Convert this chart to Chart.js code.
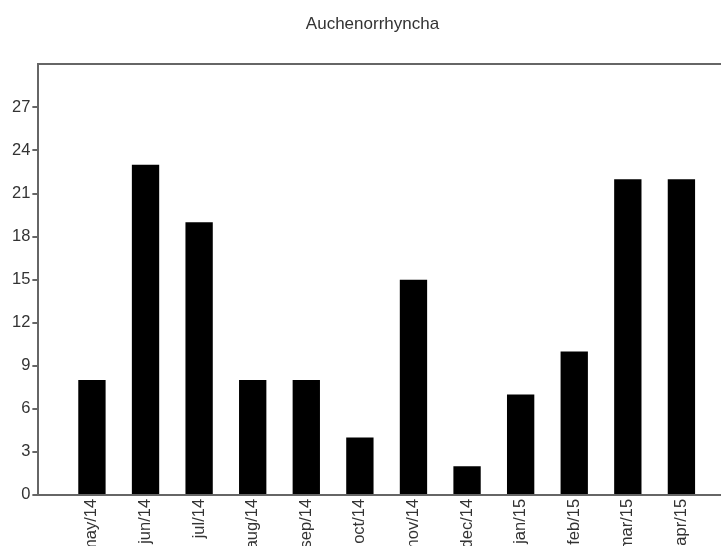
<!DOCTYPE html>
<html>
<head>
<meta charset="utf-8">
<script src="https://cdn.jsdelivr.net/npm/chart.js@4/dist/chart.umd.min.js"></script>
<style>
  html, body { margin: 0; padding: 0; background: #fff; overflow: hidden; }
  #wrap { position: relative; width: 775px; height: 566px; }
</style>
</head>
<body>
<div id="wrap"><canvas id="c"></canvas></div>
<script>
// Monthly counts, May 2014 – April 2015
const months = ['may/14', 'jun/14', 'jul/14', 'aug/14', 'sep/14', 'oct/14',
                'nov/14', 'dec/14', 'jan/15', 'feb/15', 'mar/15', 'apr/15'];
const counts = [8, 23, 19, 8, 8, 4, 15, 2, 7, 10, 22, 22];
const yTicks = [0, 3, 6, 9, 12, 15, 18, 21, 24, 27];
const yMax = 30;

const axisColor = '#666';
const textColor = '#333';
const fontFamily = '"Liberation Sans", Arial, sans-serif';

new Chart(document.getElementById('c'), {
  type: 'bar',
  data: {
    datasets: [{
      label: 'Auchenorrhyncha',
      data: counts.map((v, i) => ({ x: i, y: v })),
      backgroundColor: '#000',
      borderWidth: 0,
      categoryPercentage: 1,
      barPercentage: 0.51
    }]
  },
  options: {
    responsive: true,
    maintainAspectRatio: false,
    animation: false,
    layout: { padding: { left: 10, right: 40, top: 0, bottom: 9 } },
    plugins: {
      legend: { display: false },
      tooltip: { enabled: false },
      title: {
        display: true,
        text: 'Auchenorrhyncha',
        color: textColor,
        font: { family: fontFamily, size: 17, weight: 'normal' },
        padding: { top: 14, bottom: 30 }
      }
    },
    scales: {
      x: {
        type: 'linear',
        offset: false,
        min: -1,
        max: months.length,
        grid: { display: true, drawOnChartArea: false, drawTicks: false },
        border: { display: true, color: axisColor, width: 2 },
        ticks: {
          stepSize: 1,
          autoSkip: false,
          minRotation: 90,
          maxRotation: 90,
          padding: 4,
          color: textColor,
          font: { family: fontFamily, size: 16.5 },
          callback: (v) => months[v] !== undefined ? months[v] : ''
        }
      },
      y: {
        min: 0,
        max: yMax,
        afterBuildTicks: (scale) => {
          scale.ticks = yTicks.concat([yMax]).map(v => ({ value: v }));
        },
        grid: {
          drawOnChartArea: true,
          lineWidth: 2,
          color: (ctx) => (ctx.tick && ctx.tick.value === yMax) ? axisColor : 'rgba(0,0,0,0)',
          tickColor: (ctx) => (ctx.tick && ctx.tick.value === yMax) ? 'rgba(0,0,0,0)' : axisColor,
          tickLength: 6
        },
        border: { display: true, color: axisColor, width: 2 },
        ticks: {
          padding: 2,
          color: textColor,
          font: { family: fontFamily, size: 16.5 },
          callback: (v) => v === yMax ? '' : v
        }
      }
    }
  }
});
</script>
</body>
</html>
